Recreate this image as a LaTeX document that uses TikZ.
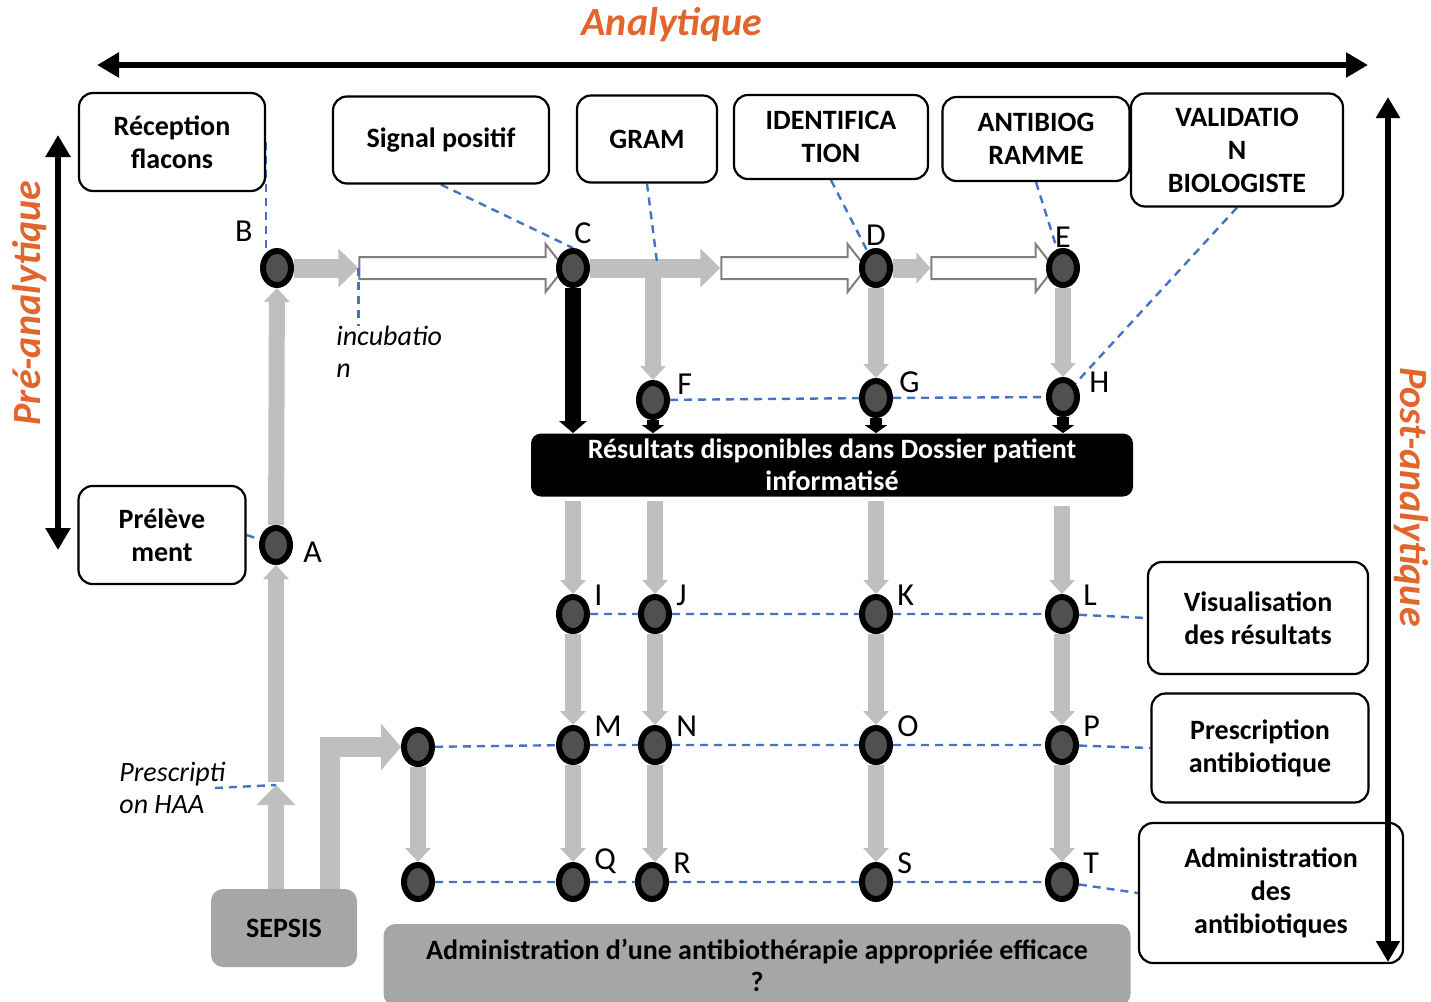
\documentclass[tikz,border=0pt]{standalone}
\usepackage{fontspec}
\setmainfont{Carlito}
\usetikzlibrary{arrows.meta,positioning,calc,shapes.geometric,shapes.arrows,backgrounds}
\definecolor{flowgray}{HTML}{BFBFBF}
\definecolor{boxgray}{HTML}{A6A6A6}
\definecolor{dotfill}{HTML}{505050}
\definecolor{linkblue}{HTML}{4472C4}
\definecolor{phaseorange}{HTML}{E2652D}
\definecolor{hollowgray}{HTML}{7F7F7F}
\tikzset{
  stepbox/.style={
    draw=black,
    line width=1.1pt,
    rounded corners=7pt,
    fill=white,
    align=center,
    inner sep=0pt,
    font=\fontsize{14}{16.5}\selectfont\bfseries
  },
  darkbox/.style={
    fill=black,
    rounded corners=5pt,
    align=center,
    inner sep=0pt,
    text=white,
    font=\fontsize{14}{16}\selectfont\bfseries
  },
  graybox/.style={
    fill=boxgray,
    rounded corners=6pt,
    align=center,
    inner sep=0pt,
    font=\fontsize{14}{16}\selectfont\bfseries
  },
  stagedot/.style={
    ellipse,
    draw=black,
    line width=3pt,
    fill=dotfill,
    minimum width=14pt,
    minimum height=17pt,
    inner sep=0pt
  },
  lbl/.style={font=\fontsize{16}{18}\selectfont, inner sep=0pt},
  dotlabel/.style={label={[lbl,xshift=4.5pt,yshift=-3pt]north east:#1}},
  notelbl/.style={font=\fontsize{14}{16}\selectfont\itshape, align=left, inner sep=0pt, anchor=north west},
  phaselbl/.style={font=\fontsize{20}{22}\selectfont\bfseries\itshape, text=phaseorange},
  hollowarrow/.style={
    single arrow,
    draw=hollowgray,
    line width=1pt,
    fill=white,
    text height=5pt,
    text depth=5pt,
    single arrow head extend=6.5pt,
    single arrow head indent=0pt,
    single arrow tip angle=104,
    inner sep=0pt
  },
  grayflow/.style={draw=flowgray, line width=9.5pt, -{Triangle[length=10pt,width=19pt]}},
  graystem/.style={draw=flowgray, line width=8pt, -{Triangle[length=7pt,width=12.5pt]}},
  blackstem/.style={draw=black, line width=8pt, -{Triangle[length=6pt,width=13.5pt]}},
  linkdash/.style={draw=linkblue, line width=1.2pt, dash pattern=on 4pt off 3pt},
  spanarrow/.style={draw=black, line width=3pt, {Triangle[length=11pt,width=12pt]}-{Triangle[length=11pt,width=12pt]}}
}

\begin{document}
\begin{tikzpicture}[x=0.5pt,y=-0.5pt]
\useasboundingbox (0,0) rectangle (1431,1002);

% phases
\node[phaselbl] (ana) at (672,25) {Analytique};
\node[phaselbl,rotate=90] (pre) at (30,303) {Pré-analytique};
\node[phaselbl,rotate=-90] (post) at (1411,497) {Post-analytique};
\coordinate (anaL) at (97,65);
\coordinate (anaR) at (1368,65);
\coordinate (preT) at (58,135);
\coordinate (preB) at (58,550);
\coordinate (postT) at (1388,97);
\coordinate (postB) at (1388,962);

% boxes
\node[stepbox,minimum width=93pt,minimum height=49pt] (recep) at (172,142) {Réception\\flacons};
\node[stepbox,minimum width=108pt,minimum height=43.5pt] (signal) at (441,140) {Signal positif};
\node[stepbox,minimum width=70pt,minimum height=43.5pt] (gram) at (647,139) {GRAM};
\node[stepbox,minimum width=97pt,minimum height=42pt] (ident) at (831,137) {IDENTIFICA\\TION};
\node[stepbox,minimum width=93.5pt,minimum height=42pt] (antib) at (1036,139) {ANTIBIOG\\RAMME};
\node[stepbox,minimum width=106pt,minimum height=56.5pt] (valid) at (1237,150) {VALIDATIO\\N\\BIOLOGISTE};
\node[stepbox,minimum width=83.5pt,minimum height=49pt] (prel) at (162,535) {Prélève\\ment};
\node[stepbox,minimum width=110pt,minimum height=56pt] (visu) at (1258,618) {Visualisation\\des résultats};
\node[stepbox,minimum width=108.5pt,minimum height=54.5pt] (presc) at (1260,748) {Prescription\\antibiotique};
\node[stepbox,minimum width=132pt,minimum height=70pt] (admin) at (1271,893) {Administration\\des\\antibiotiques};
\node[darkbox,minimum width=301pt,minimum height=31.5pt] (dpi) at (832,465) {Résultats disponibles dans Dossier patient\\informatisé};
\node[graybox,minimum width=73pt,minimum height=39pt] (sepsis) at (284,928) {SEPSIS};
\node[graybox,minimum width=373.5pt,minimum height=41pt] (final) at (757,965) {Administration d’une antibiothérapie appropriée efficace\\?};

% stages
\node[stagedot,label={[lbl,xshift=-6pt,yshift=6pt]north west:B}] (B) at (277,268) {};
\node[stagedot,label={[lbl,xshift=5pt,yshift=2pt]above:C}] (C) at (573,268) {};
\node[stagedot,label={[lbl,yshift=1pt]above:D}] (D) at (876,268) {};
\node[stagedot,label={[lbl]above:E}] (E) at (1063,268) {};
\node[stagedot,label={[lbl,xshift=6pt,yshift=-4.5pt]north east:F}] (F) at (653,400) {};
\node[stagedot,label={[lbl,xshift=5.5pt,yshift=-4.5pt]north east:G}] (G) at (876,398) {};
\node[stagedot,label={[lbl,xshift=7pt,yshift=-5pt]north east:H}] (H) at (1063,397) {};
\node[stagedot,label={[lbl,xshift=5pt,yshift=-3.5pt]right:A}] (A) at (276,545) {};
\node[stagedot,dotlabel=I] (I) at (573,614) {};
\node[stagedot,dotlabel=J] (J) at (655,614) {};
\node[stagedot,dotlabel=K] (K) at (876,614) {};
\node[stagedot,dotlabel=L] (L) at (1062,614) {};
\node[stagedot] (lm) at (418,747) {};
\node[stagedot,dotlabel=M] (M) at (573,745) {};
\node[stagedot,dotlabel=N] (N) at (655,745) {};
\node[stagedot,dotlabel=O] (O) at (876,745) {};
\node[stagedot,dotlabel=P] (P) at (1062,745) {};
\node[stagedot] (lb) at (418,882) {};
\node[stagedot,dotlabel=Q] (Q) at (573,882) {};
\node[stagedot,dotlabel=R] (R) at (652,882) {};
\node[stagedot,dotlabel=S] (S) at (876,882) {};
\node[stagedot,dotlabel=T] (T) at (1062,882) {};

% notes
\node[notelbl] (inclbl) at (336,326) {incubatio\\n};
\node[notelbl] (haalbl) at (119,762) {Prescripti\\on HAA};
\coordinate (haa) at (276,785);
\coordinate (haatail) at (215,788);
\coordinate (gramhit) at (657,262);

\draw[spanarrow] (anaL) -- (anaR);
\draw[spanarrow] (preT) -- (preB);
\draw[spanarrow,{Triangle[length=10.5pt,width=11.5pt]}-{Triangle[length=10.5pt,width=11.5pt]}] (postT) -- (postB);

\begin{scope}[on background layer]
\node[hollowarrow,minimum height=102.5pt] (incub) at (457.5,268) {};
\node[hollowarrow,minimum height=72.5pt] (idrun) at (789.5,268) {};
\node[hollowarrow,minimum height=61.5pt] (abrun) at (988.5,268) {};
\draw[grayflow] (B) -- (incub.tail);
\draw[grayflow] (C) -- (idrun.tail);
\draw[grayflow,-{Triangle[length=7pt,width=15.5pt]}] (D) -- (abrun.tail);
\draw[graystem] (F |- C) -- (F);
\draw[graystem] (D) -- (G);
\draw[graystem] (E) -- (H);
\draw[blackstem] (C) -- (C |- dpi.north);
\draw[blackstem,line width=6pt,-{Triangle[length=4pt,width=11pt]}] (F) -- (F |- dpi.north);
\draw[blackstem,line width=6pt,-{Triangle[length=4pt,width=11pt]}] (G) -- (G |- dpi.north);
\draw[blackstem,line width=6pt,-{Triangle[length=4pt,width=11pt]}] (H) -- (H |- dpi.north);
\draw[graystem] ($(I |- dpi.south)+(0,4)$) -- (I);
\draw[graystem] ($(J |- dpi.south)+(0,4)$) -- (J);
\draw[graystem] ($(K |- dpi.south)+(0,4)$) -- (K);
\draw[graystem] ($(L |- dpi.south)+(0,9)$) -- (L);
\draw[graystem] (I) -- (M);
\draw[graystem] (J) -- (N);
\draw[graystem] (K) -- (O);
\draw[graystem] (L) -- (P);
\draw[graystem] (M) -- (Q);
\draw[graystem] (N) -- (N |- R.north);
\draw[graystem] (O) -- (S);
\draw[graystem] (P) -- (T);
\draw[graystem] (lm) -- (lb);
\draw[grayflow,line width=8pt] (sepsis.north -| A) -- (haa);
\draw[graystem] ($(haa)+(0,-3)$) -- (A);
\draw[graystem] (A) -- (B);
\draw[grayflow,line width=10pt,-{Triangle[length=10pt,width=23pt]}] ($(sepsis.north)+(46,0)$) |- (lm);
% links
\draw[linkdash] (recep.east) -- (recep.east |- B);
\draw[linkdash] (signal.south) -- (C.north);
\draw[linkdash] (gram.south) -- (gramhit);
\draw[linkdash] (ident.south) -- (D);
\draw[linkdash] (antib.south) -- (E);
\draw[linkdash] (valid.south) -- (H);
\draw[linkdash] (incub.tail) -- (incub.tail |- inclbl.north);
\draw[linkdash] (prel.east) -- (A);
\draw[linkdash] (haatail) -- (haa);
\draw[linkdash] (F) -- (G) -- (H);
\draw[linkdash] (I) -- (J) -- (K) -- (L) -- (visu.west);
\draw[linkdash] (lm) -- (M) -- (N) -- (O) -- (P) -- (presc.west);
\draw[linkdash] (lb) -- (Q) -- (R) -- (S) -- (T) -- (admin.west);
\end{scope}
\end{tikzpicture}
\end{document}
